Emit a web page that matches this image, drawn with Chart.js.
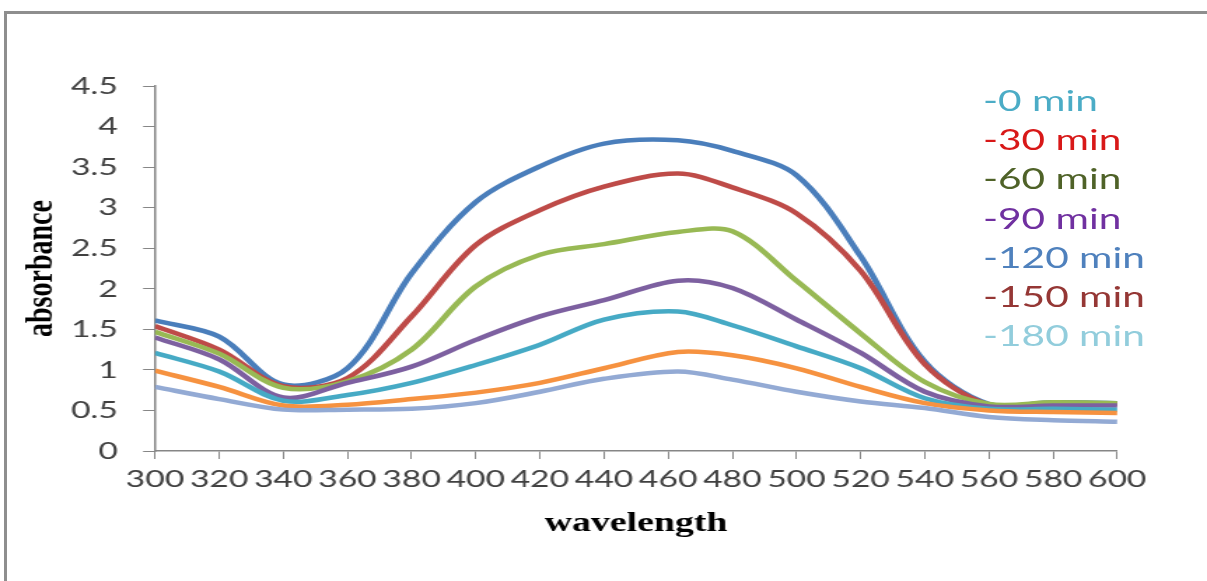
<!DOCTYPE html>
<html>
<head>
<meta charset="utf-8">
<script src="https://cdn.jsdelivr.net/npm/chart.js@4.4.1/dist/chart.umd.min.js"></script>
<style>
  html, body { margin: 0; padding: 0; background: #fff; overflow: hidden; }
  #page { position: relative; width: 1207px; height: 581px; overflow: hidden; }
  #frame { position: absolute; left: 4px; top: 11px; width: 1203px; height: 570px; box-sizing: border-box;
           border-left: 3px solid #8e8e8e; border-top: 3px solid #8e8e8e; }
  /* the source picture is stretched sideways, so draw narrow and stretch */
  #stretch { position: absolute; left: 0; top: 0; width: 862px; height: 581px;
             transform: scaleX(1.40023); transform-origin: 0 0; }
  #legend { position: absolute; left: 702px; top: 80px; font-family: Lato, sans-serif;
            font-size: 29px; line-height: 39.2px; white-space: nowrap; }
</style>
</head>
<body>
<div id="page">
  <div id="frame"></div>
  <div id="stretch">
    <canvas id="chart"></canvas>
    <div id="legend"></div>
  </div>
</div>
<script>
// wavelengths (nm) and absorbance curves
const wavelengths = [300, 320, 340, 360, 380, 400, 420, 440, 463, 480, 500, 520, 540, 560, 580, 600];
const s120 = [1.61, 1.41, 0.82, 1.02, 2.19, 3.07, 3.51, 3.79, 3.83, 3.70, 3.40, 2.40, 1.10, 0.58, 0.60, 0.59];
const s150 = [1.54, 1.25, 0.80, 0.90, 1.66, 2.54, 2.97, 3.26, 3.42, 3.25, 2.93, 2.22, 1.07, 0.57, 0.59, 0.58];
const s60  = [1.47, 1.20, 0.78, 0.86, 1.25, 2.03, 2.42, 2.55, 2.70, 2.71, 2.10, 1.45, 0.85, 0.58, 0.60, 0.59];
const s90  = [1.40, 1.13, 0.66, 0.84, 1.04, 1.37, 1.66, 1.86, 2.10, 2.01, 1.62, 1.21, 0.73, 0.55, 0.56, 0.56];
const s0   = [1.21, 0.98, 0.62, 0.69, 0.84, 1.06, 1.31, 1.62, 1.72, 1.55, 1.29, 1.02, 0.65, 0.52, 0.52, 0.51];
const s30  = [0.99, 0.79, 0.56, 0.57, 0.64, 0.72, 0.84, 1.02, 1.22, 1.18, 1.02, 0.79, 0.59, 0.50, 0.48, 0.47];
const s180 = [0.79, 0.64, 0.51, 0.51, 0.52, 0.59, 0.73, 0.89, 0.98, 0.88, 0.73, 0.61, 0.53, 0.42, 0.38, 0.36];

const yTicks = [0, 4.5, 0.5];   // min, max, step
const xTicks = [300, 600, 20];

const legendLabels = ['-0 min', '-30 min', '-60 min', '-90 min', '-120 min', '-150 min', '-180 min'];
const legendColors = ['#4bacc6', '#d81818', '#4f6228', '#7030a0', '#4f81bd', '#953735', '#92cddc'];

const series = [
  { data: s120, color: '#4a7ebb' },
  { data: s150, color: '#be4b48' },
  { data: s60,  color: '#98b954' },
  { data: s90,  color: '#7d60a0' },
  { data: s0,   color: '#46aac5' },
  { data: s30,  color: '#f69240' },
  { data: s180, color: '#93aad4' },
];

document.getElementById('legend').innerHTML = legendLabels
  .map((l, i) => `<div style="color:${legendColors[i]}">${l}</div>`).join('');

const axisGray = '#868686';

new Chart(document.getElementById('chart'), {
  type: 'line',
  data: {
    datasets: series.map(s => ({
      data: s.data.map((v, i) => ({ x: wavelengths[i], y: v })),
      borderColor: s.color,
      borderWidth: 4.5,
      pointRadius: 0,
      tension: 0.33,
      fill: false,
    })).reverse(),
  },
  options: {
    responsive: true,
    maintainAspectRatio: false,
    animation: false,
    layout: { padding: { top: 86, right: 64.1, left: 0, bottom: 0 } },
    plugins: { legend: { display: false }, tooltip: { enabled: false } },
    scales: {
      x: {
        type: 'linear', min: xTicks[0], max: xTicks[1],
        afterFit: s => { s.height = 130; },
        ticks: { stepSize: xTicks[2], color: '#404040', padding: 6, maxRotation: 0, autoSkip: false,
                 font: { family: 'Lato', size: 24 } },
        grid: { drawOnChartArea: false, tickLength: 8, color: axisGray },
        border: { color: axisGray, width: 1.5 },
        title: { display: true, text: 'wavelength', color: '#000', padding: { top: 0, bottom: 41 },
                 font: { family: 'Liberation Serif', size: 27, weight: 'bold' } },
      },
      y: {
        min: yTicks[0], max: yTicks[1],
        afterFit: s => { s.width = 110.7; },
        ticks: { stepSize: yTicks[2], color: '#404040', padding: 18,
                 font: { family: 'Lato', size: 24 },
                 callback: v => String(+v.toFixed(1)) },
        grid: { drawOnChartArea: false, tickLength: 8.5, color: axisGray },
        border: { color: axisGray, width: 1.5 },
        title: { display: true, text: 'absorbance', color: '#000', padding: { top: 12.5, bottom: 0 },
                 font: { family: 'Liberation Serif', size: 28, weight: 'bold' } },
      },
    },
  },
});
</script>
</body>
</html>
